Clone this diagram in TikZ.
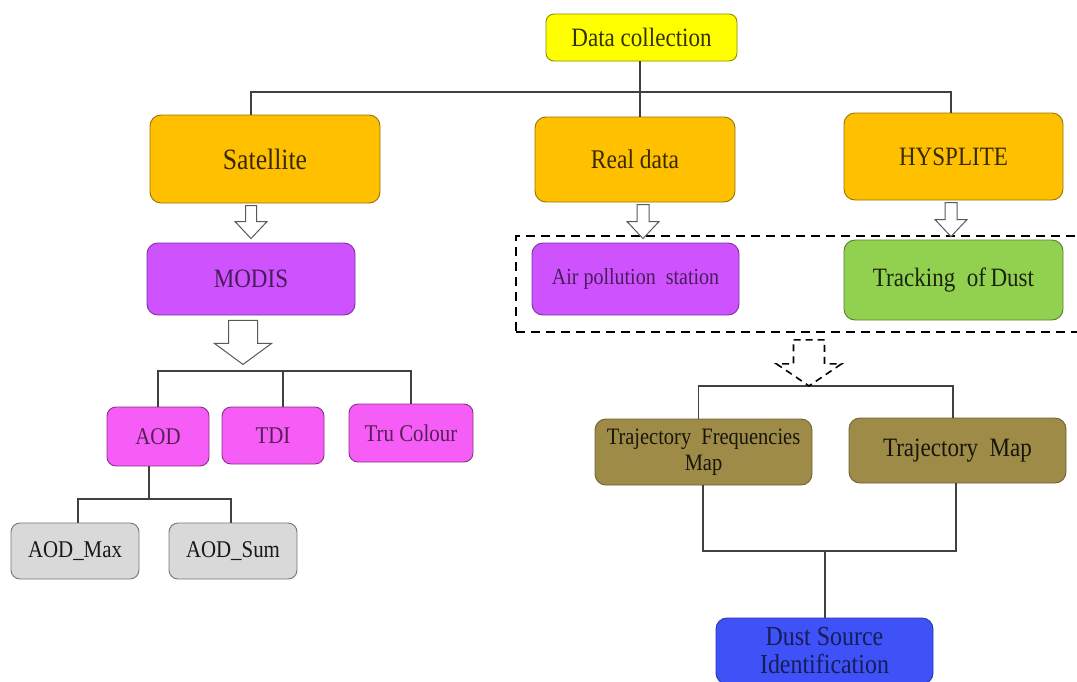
\documentclass[tikz,border=0pt]{standalone}
\usepackage{fontspec}
\setmainfont[FakeStretch=0.87]{Liberation Serif}
\usetikzlibrary{calc}

\definecolor{dcyellow}{HTML}{FFFF00}
\definecolor{srcorange}{HTML}{FFC000}
\definecolor{modpurple}{HTML}{CF52FF}
\definecolor{aodpink}{HTML}{F65CF6}
\definecolor{trkgreen}{HTML}{92D050}
\definecolor{trajolive}{HTML}{9E8B47}
\definecolor{dustblue}{HTML}{3F52F8}
\definecolor{subgrey}{HTML}{D9D9D9}
\definecolor{linegrey}{HTML}{404040}

\tikzset{pics/hollowarrow/.style args={#1/#2/#3/#4}{code={
  \path[pic actions] (-#2,0) -- (#2,0) -- (#2,#1-#4) -- (#3,#1-#4) -- (0,#1)
    -- (-#3,#1-#4) -- (-#2,#1-#4) -- cycle;
}}}

\begin{document}
\begin{tikzpicture}[x=1pt, y=-1pt]
\tikzstyle{box}=[rectangle, rounded corners=11pt, line width=0.9pt, align=center, inner sep=2pt]
\tikzstyle{yellowbox}=[box, fill=dcyellow, draw=dcyellow!55!black, text=dcyellow!20!black, rounded corners=8pt]
\tikzstyle{orangebox}=[box, fill=srcorange, draw=srcorange!60!black, text=srcorange!22!black]
\tikzstyle{purplebox}=[box, fill=modpurple, draw=modpurple!60!black, text=modpurple!35!black]
\tikzstyle{pinkbox}=[box, fill=aodpink, draw=aodpink!55!black, text=aodpink!35!black, rounded corners=9pt]
\tikzstyle{greenbox}=[box, fill=trkgreen, draw=trkgreen!60!black, text=trkgreen!18!black]
\tikzstyle{olivebox}=[box, fill=trajolive, draw=trajolive!70!black, text=trajolive!15!black]
\tikzstyle{bluebox}=[box, fill=dustblue, draw=dustblue!65!black, text=dustblue!35!black]
\tikzstyle{greybox}=[box, fill=subgrey, draw=subgrey!55!black, text=black!90, rounded corners=9pt]
\tikzstyle{group}=[rectangle, draw=black, line width=1.8pt, dash pattern=on 9pt off 6pt]
\tikzstyle{connect}=[draw=linegrey, line width=1.2pt]
\tikzstyle{blockarrow}=[draw=black!65, fill=white, line width=1pt, line join=miter]
\tikzstyle{dashedarrow}=[draw=black, fill=white, line width=1.6pt, dash pattern=on 7pt off 5pt]

\useasboundingbox (0,0) rectangle (1077,681);

% top level
\node[yellowbox, minimum width=191pt, minimum height=47pt, font=\fontsize{26.5}{30}\selectfont] (dc) at (641.5,37.5) {Data collection};
\node[orangebox, minimum width=230pt, minimum height=88pt, font=\fontsize{29.5}{33}\selectfont] (sat) at (265,159) {Satellite};
\node[orangebox, minimum width=200pt, minimum height=85pt, font=\fontsize{27}{31}\selectfont] (rd) at (635,159.5) {Real data};
\node[orangebox, minimum width=219pt, minimum height=87pt, font=\fontsize{26.5}{30}\selectfont] (hys) at (953.5,156.5) {HYSPLITE};

% second level
\node[purplebox, minimum width=208pt, minimum height=72pt, font=\fontsize{26.5}{30}\selectfont] (modis) at (251,279) {MODIS};
\node[group, minimum width=569pt, minimum height=96pt] (grp) at (800.5,284) {};
\node[purplebox, minimum width=207pt, minimum height=72pt, font=\fontsize{23}{27}\selectfont] (air) at (635.5,279) {Air pollution~ station};
\node[greenbox, minimum width=219pt, minimum height=80pt, font=\fontsize{26.5}{30}\selectfont] (track) at (953.5,280) {Tracking~ of\,Dust};

% MODIS products
\node[pinkbox, minimum width=102pt, minimum height=59pt, font=\fontsize{24}{28}\selectfont] (aod) at (158,436.5) {AOD};
\node[pinkbox, minimum width=102pt, minimum height=57pt, font=\fontsize{24}{28}\selectfont] (tdi) at (273,435.5) {TDI};
\node[pinkbox, minimum width=124pt, minimum height=58pt, font=\fontsize{24}{28}\selectfont] (tru) at (411,433) {Tru Colour};
\node[greybox, minimum width=128pt, minimum height=56pt, font=\fontsize{24}{28}\selectfont] (amax) at (75,551) {AOD\_Max};
\node[greybox, minimum width=128pt, minimum height=56pt, font=\fontsize{24}{28}\selectfont] (asum) at (233,551) {AOD\_Sum};

% trajectories
\node[olivebox, minimum width=217pt, minimum height=66pt, font=\fontsize{23.5}{26}\selectfont] (tf) at (703.5,452) {Trajectory~ Frequencies\\Map};
\node[olivebox, minimum width=217pt, minimum height=65pt, font=\fontsize{26.5}{30}\selectfont] (tm) at (957.5,450.5) {Trajectory~ Map};
\node[bluebox, minimum width=217pt, minimum height=66pt, font=\fontsize{27.5}{28}\selectfont] (dust) at (824.5,651) {Dust Source\\Identification};

% connectors
\coordinate (topbus) at (640,92);
\coordinate (modbus) at (283,371);
\coordinate (aodbus) at (149,499);
\coordinate (trajbus) at (809,386);
\coordinate (dustbus) at (825,551);

\draw[connect] ([xshift=-1.5pt]dc.south) -- ([xshift=-1.5pt]dc.south |- rd.north);
\draw[connect] ([xshift=-14pt]sat.north) |- (topbus) -| ([xshift=-2.5pt]hys.north);
\draw[connect] (aod.north) |- (modbus) -| (tru.north);
\draw[connect] ([xshift=10pt]tdi.north) -- (modbus);
\draw[connect] ([xshift=-9pt]aod.south) -- (aodbus);
\draw[connect] ([xshift=3pt]amax.north) |- (aodbus) -| ([xshift=-2pt]asum.north);
\draw[connect] ([xshift=-5pt]tf.north) |- (trajbus) -| ([xshift=-4.5pt]tm.north);
\draw[connect] ([xshift=-0.5pt]tf.south) |- (dustbus) -| ([xshift=-1.5pt]tm.south);
\draw[connect] (dustbus) -- (dustbus |- dust.north);

% block arrows
\pic[blockarrow] at ($(modis.north)+(0,-37)$) {hollowarrow=33/5.5/16/17};
\pic[blockarrow] at ($(air.north)+(7.5,-38)$) {hollowarrow=34/6/16/17};
\pic[blockarrow] at ($(track.north)+(-2.5,-37)$) {hollowarrow=34/6/16/17};
\pic[blockarrow] at ($(modis.south)+(-8,5)$) {hollowarrow=44/14.5/28.5/21};
\pic[dashedarrow] at ($(grp.south)+(8.5,7)$) {hollowarrow=46/15.5/32.5/22};
\end{tikzpicture}
\end{document}
